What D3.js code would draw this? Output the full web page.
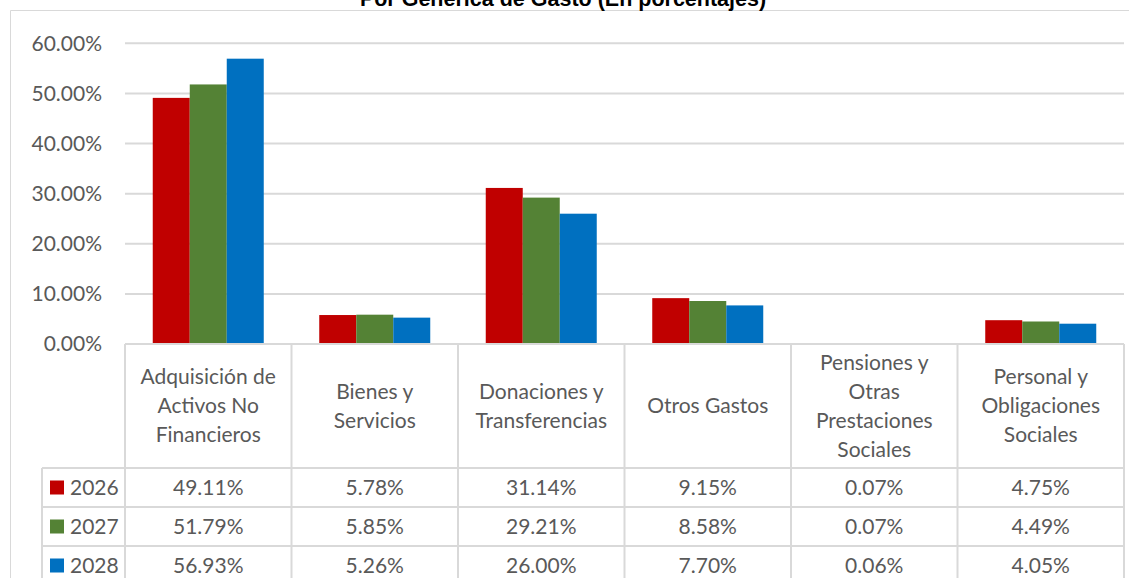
<!DOCTYPE html>
<html>
<head>
<meta charset="utf-8">
<script src="https://cdn.jsdelivr.net/npm/d3@7"></script>
<style>
  body { margin: 0; background: #fff; }
  svg { display: block; }
  text { font-family: Lato, "Open Sans", sans-serif; fill: #595959; }
</style>
</head>
<body>
<div id="chart"></div>
<script>
let categories = [
    "Adquisición de\nActivos No\nFinancieros",
    "Bienes y\nServicios",
    "Donaciones y\nTransferencias",
    "Otros Gastos",
    "Pensiones y\nOtras\nPrestaciones\nSociales",
    "Personal y\nObligaciones\nSociales"
];
let years = ["2026", "2027", "2028"];
let values2026 = [49.11, 5.78, 31.14, 9.15, 0.07, 4.75];
let values2027 = [51.79, 5.85, 29.21, 8.58, 0.07, 4.49];
let values2028 = [56.93, 5.26, 26.00, 7.70, 0.06, 4.05];
let colors = ["#C00000", "#548235", "#0070C0"];
let yTicks = [0, 10, 20, 30, 40, 50, 60];
let title = "Por Genérica de Gasto (En porcentajes)";

let series = [values2026, values2027, values2028];

let width = 1129;
let height = 578;
let plotLeft = 125, plotRight = 1124, plotTop = 43.3, plotBottom = 344;
let gridColor = "#d9d9d9";
let fontSize = "21px";

let svg = d3.select("#chart").append("svg")
    .attr("width", width)
    .attr("height", height);

// outer chart frame
svg.append("path")
    .attr("d", "M10.5," + height + "V10.5H" + width)
    .attr("fill", "none")
    .attr("stroke", gridColor)
    .attr("stroke-width", 1);

// title (cut off at the top, as in the original)
svg.append("text")
    .attr("x", 563)
    .attr("y", 6)
    .attr("text-anchor", "middle")
    .style("font-family", "Arial, 'Liberation Sans', sans-serif")
    .style("font-weight", "bold")
    .style("font-size", "21.5px")
    .style("fill", "#000")
    .text(title);

let x0 = d3.scaleBand().domain(categories).range([plotLeft, plotRight]).paddingInner(0).paddingOuter(0);
let x1 = d3.scaleBand().domain(years).range([0, x0.bandwidth()]).paddingInner(0).paddingOuter(0.75);
let y = d3.scaleLinear().domain([0, 60]).range([plotBottom, plotTop]);

// gridlines
svg.append("g")
    .selectAll("line")
    .data(yTicks.slice(1))
    .join("line")
    .attr("x1", plotLeft)
    .attr("x2", plotRight)
    .attr("y1", d => y(d))
    .attr("y2", d => y(d))
    .attr("stroke", gridColor)
    .attr("stroke-width", 2);

// y axis labels
let yAxis = svg.append("g")
    .attr("transform", "translate(" + plotLeft + ",0)")
    .call(d3.axisLeft(y).tickValues(yTicks).tickSize(0).tickPadding(23)
        .tickFormat(d => d.toFixed(2) + "%"));
yAxis.select(".domain").remove();
yAxis.selectAll("text")
    .style("font-size", fontSize)
    .style("fill", "#595959")
    .style("font-family", "Lato, 'Open Sans', sans-serif");

// bars
let groups = svg.append("g")
    .selectAll("g")
    .data(categories)
    .join("g")
    .attr("transform", d => "translate(" + x0(d) + ",0)");

groups.selectAll("rect")
    .data((d, i) => years.map((yr, j) => ({ year: yr, value: series[j][i], color: colors[j] })))
    .join("rect")
    .attr("x", d => x1(d.year))
    .attr("width", x1.bandwidth())
    .attr("y", d => y(d.value))
    .attr("height", d => plotBottom - y(d.value))
    .attr("fill", d => d.color);

// data table
let headerBottom = 468;
let rowH = 39;
let legendLeft = 42;
let table = svg.append("g");

// horizontal lines
table.append("line")
    .attr("x1", plotLeft).attr("x2", plotRight)
    .attr("y1", plotBottom).attr("y2", plotBottom)
    .attr("stroke", gridColor).attr("stroke-width", 2);
for (let r = 0; r < 3; r++) {
    table.append("line")
        .attr("x1", legendLeft).attr("x2", plotRight)
        .attr("y1", headerBottom + r * rowH).attr("y2", headerBottom + r * rowH)
        .attr("stroke", gridColor).attr("stroke-width", 2);
}
// vertical lines
let colEdges = categories.map(c => x0(c)).concat([plotRight]);
table.selectAll(".vline")
    .data(colEdges)
    .join("line")
    .attr("x1", d => d).attr("x2", d => d)
    .attr("y1", plotBottom).attr("y2", height)
    .attr("stroke", gridColor).attr("stroke-width", 2);
table.append("line")
    .attr("x1", legendLeft).attr("x2", legendLeft)
    .attr("y1", headerBottom).attr("y2", height)
    .attr("stroke", gridColor).attr("stroke-width", 2);

// header labels
let lineH = 29;
categories.forEach(c => {
    let lines = c.split("\n");
    let cy = (plotBottom + headerBottom) / 2;
    let t = table.append("text")
        .attr("text-anchor", "middle")
        .style("font-size", fontSize);
    lines.forEach((ln, k) => {
        t.append("tspan")
            .attr("x", x0(c) + x0.bandwidth() / 2)
            .attr("y", cy + (k - (lines.length - 1) / 2) * lineH)
            .attr("dy", "0.35em")
            .text(ln);
    });
});

// rows
years.forEach((yr, j) => {
    let cy = headerBottom + j * rowH + rowH / 2;
    table.append("rect")
        .attr("x", 50).attr("y", cy - 7)
        .attr("width", 14).attr("height", 14)
        .attr("fill", colors[j]);
    table.append("text")
        .attr("x", 70).attr("y", cy).attr("dy", "0.35em")
        .style("font-size", fontSize)
        .text(yr);
    categories.forEach((c, i) => {
        table.append("text")
            .attr("x", x0(c) + x0.bandwidth() / 2)
            .attr("y", cy).attr("dy", "0.35em")
            .attr("text-anchor", "middle")
            .style("font-size", fontSize)
            .text(series[j][i].toFixed(2) + "%");
    });
});
</script>
</body>
</html>
